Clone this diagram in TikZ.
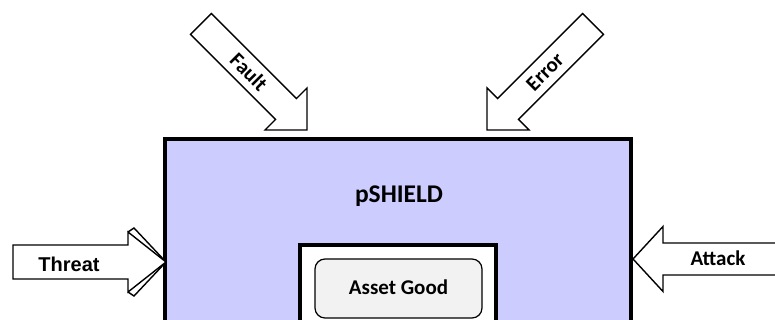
\documentclass[tikz,border=0pt]{standalone}
\usepackage{fontspec}
\setmainfont{Carlito}
\newfontfamily\arialfont{Liberation Sans}
\definecolor{shieldfill}{HTML}{CCCCFF}
\definecolor{assetfill}{HTML}{F2F2F2}

\begin{document}
\begin{tikzpicture}[x=1pt,y=1pt,
  arrowshape/.style={draw=black, line width=1.4pt, fill=white, line join=miter},
  lbl/.style={font=\bfseries\fontsize{21}{25}\selectfont, inner sep=0pt},
  biglbl/.style={font=\bfseries\fontsize{25.5}{30}\selectfont, inner sep=0pt},
  assetbox/.style={draw=black, line width=1.2pt, fill=assetfill, rounded corners=10pt,
    minimum width=167pt, minimum height=59pt, inner sep=0pt},
]
\clip (0,0) rectangle (775,320);

% shield body with the notch that holds the asset
\draw[line width=4pt, fill=shieldfill, line join=miter]
  (165,-10) -- (165,181) -- (631,181) -- (631,-10) -- (496,-10)
  -- (496,75) -- (300,75) -- (300,-10) -- cycle;
\node[biglbl] (shield) at (399,124) {pSHIELD};

% protected asset
\node[assetbox] (asset) at (398.5,31.5) {};
\node[lbl] (assettext) at (398.5,33) {Asset Good};

% Fault: diagonal arrow from the upper left
\begin{scope}[shift={(307,190)}, rotate=-45]
  \draw[arrowshape] (0,0) -- (-29.7,29.7) -- (-29.7,14.75) -- (-150,14.75)
    -- (-150,-14.75) -- (-29.7,-14.75) -- (-29.7,-29.7) -- cycle;
  \node[lbl, rotate=-45] (fault) at (-82,0) {Fault};
\end{scope}

% Error: diagonal arrow from the upper right
\begin{scope}[shift={(487,190)}, rotate=-135]
  \draw[arrowshape] (0,0) -- (-29.7,29.7) -- (-29.7,14.75) -- (-150,14.75)
    -- (-150,-14.75) -- (-29.7,-14.75) -- (-29.7,-29.7) -- cycle;
  \node[lbl, rotate=45] (error) at (-82,0) {Error};
\end{scope}

% Threat: arrow from the left with a doubled head
\draw[arrowshape] (128,88) -- (134,92) -- (166,58) -- (134,24) -- (128,28);
\draw[arrowshape] (13,75) -- (128,75) -- (128,88) -- (166,58) -- (128,28)
  -- (128,41) -- (13,41) -- cycle;
\node[font=\arialfont\bfseries\fontsize{20}{24}\selectfont, inner sep=0pt]
  (threat) at (69,56) {Threat};

% Attack: arrow from the right
\draw[arrowshape] (633,61) -- (663,93.5) -- (663,77) -- (790,77) -- (790,45)
  -- (663,45) -- (663,28.5) -- cycle;
\node[lbl] (attack) at (718,62) {Attack};
\end{tikzpicture}
\end{document}
